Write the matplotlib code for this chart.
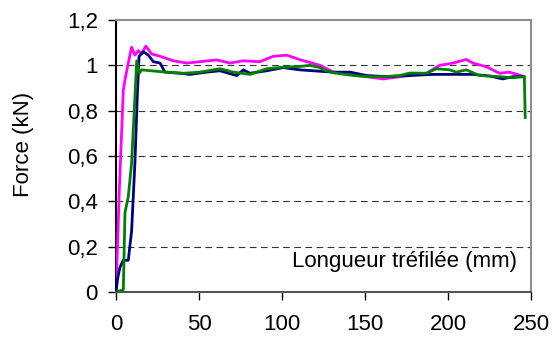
import numpy as np
import matplotlib.pyplot as plt

plt.rcParams['font.family'] = ['Liberation Sans', 'DejaVu Sans']

# magenta curve
x_pink = [0, 2, 4.4, 5.4, 7.4, 9.4, 11.4, 13.4, 15.4, 18, 21.5, 26.5, 34.5, 42.6, 50.6,
          60.6, 68.7, 76.7, 86.7, 94.8, 102.8, 110.8, 122.9, 130.9, 141, 151, 161, 171,
          187, 195, 203, 211, 215, 223, 231, 237, 243, 246]
y_pink = [0, 0.45, 0.89, 0.935, 1.01, 1.08, 1.045, 1.065, 1.05, 1.085, 1.05, 1.04, 1.02, 1.01, 1.016,
          1.024, 1.01, 1.02, 1.016, 1.04, 1.045, 1.025, 1.0, 0.97, 0.96, 0.95, 0.94, 0.95,
          0.965, 1.0, 1.01, 1.026, 1.01, 0.994, 0.965, 0.97, 0.957, 0.95]

# navy curve
x_blue = [0, 1, 2.4, 4.4, 7.4, 9.4, 11.4, 12.8, 13.9, 16.4, 19.5, 22.5, 26.5, 29.5, 38.6,
          44.6, 54.6, 62.6, 72.7, 76.7, 80.7, 90.8, 100.8, 110.8, 120.8, 130.9, 141, 151,
          163, 177, 191, 203, 215, 225, 233, 239, 245]
y_blue = [0, 0.06, 0.11, 0.14, 0.14, 0.27, 0.57, 0.86, 1.04, 1.06, 1.045, 1.016, 1.01, 0.97, 0.965,
          0.96, 0.97, 0.976, 0.955, 0.98, 0.965, 0.976, 0.99, 0.98, 0.975, 0.97, 0.97, 0.955,
          0.95, 0.955, 0.96, 0.96, 0.96, 0.953, 0.94, 0.95, 0.95]

# green curve
x_green = [0, 4.4, 5.4, 7.4, 9.4, 11.4, 12.5, 14.1, 15.4, 22.5, 30.5, 40.6, 50.6, 62.6,
           70.7, 80.7, 90.8, 100.8, 110.8, 116.8, 122.9, 125, 130.9, 141, 151, 161, 171,
           177, 187, 193, 201, 205, 211, 219, 231, 239, 246, 246.5]
y_green = [0, 0.01, 0.35, 0.42, 0.57, 0.86, 1.02, 0.965, 0.98, 0.975, 0.97, 0.965, 0.97, 0.985,
           0.97, 0.96, 0.985, 0.992, 0.995, 1.0, 0.99, 0.98, 0.967, 0.957, 0.95, 0.95, 0.955,
           0.966, 0.965, 0.985, 0.98, 0.97, 0.98, 0.955, 0.95, 0.945, 0.95, 0.77]

x_ticks = [0, 50, 100, 150, 200, 250]
y_ticks = [0, 0.2, 0.4, 0.6, 0.8, 1, 1.2]
y_labels = ['0', '0,2', '0,4', '0,6', '0,8', '1', '1,2']

fig = plt.figure(figsize=(5.57, 3.38), dpi=100)
ax = fig.add_axes([116 / 557, 1 - 292 / 338, 415 / 557, 272 / 338])

for yv in y_ticks[1:-1]:
    ax.axhline(yv, color='#333333', lw=0.8, ls=(0, (6, 4)), zorder=1)

ax.plot(x_pink, y_pink, color='#ff00ff', lw=2, zorder=3)
ax.plot(x_blue, y_blue, color='#000080', lw=2, zorder=4)
ax.plot(x_green, y_green, color='#008000', lw=2, zorder=5)

ax.set_xlim(0, 250)
ax.set_ylim(0, 1.2)
ax.set_xticks(x_ticks)
ax.set_yticks(y_ticks)
ax.set_yticklabels(y_labels)
ax.tick_params(direction='out', length=6, width=1, labelsize=16, color='black')
ax.tick_params(axis='x', pad=10)
ax.tick_params(axis='y', pad=7)

ax.spines['left'].set_color('black')
ax.spines['bottom'].set_color('#555555')
ax.spines['top'].set_color('#8c8c8c')
ax.spines['right'].set_color('#8c8c8c')
for s in ax.spines.values():
    s.set_linewidth(1.5)

fig.text(24 / 557, 1 - 144 / 338, 'Force (kN)', rotation=90,
         ha='center', va='center', fontsize=16)
ax.text(401 / 415, 31 / 272, 'Longueur tréfilée (mm)', transform=ax.transAxes,
        ha='right', va='center', fontsize=16)

fig.savefig('out.png', dpi=100)
